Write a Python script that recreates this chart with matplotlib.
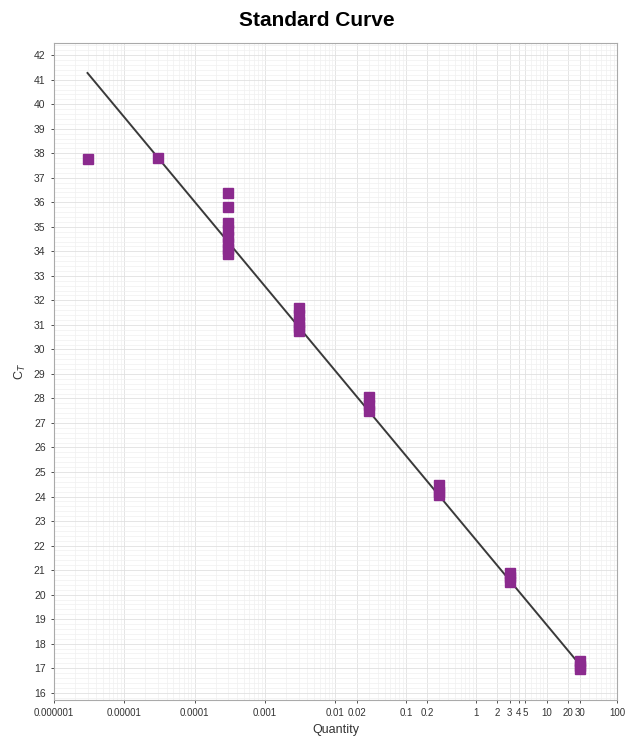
import matplotlib
matplotlib.use("Agg")
import matplotlib.pyplot as plt
import numpy as np

# standard curve data: quantity and Ct replicates
qty = [3e-6, 3e-5,
       3e-4, 3e-4, 3e-4, 3e-4, 3e-4, 3e-4, 3e-4, 3e-4,
       3e-3, 3e-3, 3e-3, 3e-3, 3e-3,
       3e-2, 3e-2, 3e-2,
       0.3, 0.3, 0.3,
       3, 3, 3,
       30, 30, 30]
ct = [37.75, 37.8,
      36.38, 35.82, 35.15, 34.85, 34.6, 34.35, 34.1, 33.9,
      31.7, 31.4, 31.1, 30.9, 30.75,
      28.05, 27.75, 27.5,
      24.45, 24.2, 24.05,
      20.9, 20.7, 20.5,
      17.3, 17.1, 16.95]

# fitted line: Ct = slope*log10(q) + intercept
slope = -3.45
intercept = 22.22

xtick_vals = [1e-6, 1e-5, 1e-4, 1e-3, 0.01, 0.02, 0.1, 0.2, 1, 2, 3, 4, 5, 10, 20, 30, 100]
xtick_labels = ["0.000001", "0.00001", "0.0001", "0.001", "0.01", "0.02", "0.1", "0.2",
                "1", "2", "3", "4", "5", "10", "20", "30", "100"]
ytick_vals = list(range(16, 43))

plt.rcParams['font.family'] = ['Liberation Sans', 'DejaVu Sans']
fig = plt.figure(figsize=(6.27, 7.40), dpi=100)
ax = fig.add_axes([0.086, 0.054, 0.898, 0.888])

ax.set_xscale('log')
ax.set_xlim(1e-6, 100)
ax.set_ylim(15.7, 42.5)

# grid
ax.set_yticks(np.arange(15.8, 42.5, 0.2), minor=True)
ax.grid(True, which='major', color='#e0e0e0', lw=0.6)
ax.grid(True, which='minor', color='#f0f0f0', lw=0.5)
ax.set_axisbelow(True)

lx = np.array([min(qty), max(qty)])
ax.plot(lx, slope * np.log10(lx) + intercept, color='#3a3a3a', lw=1.4, zorder=3)
ax.plot(qty, ct, 's', color='#8b2a8e', ms=7.3, mec='#8b2a8e', zorder=4)

ax.set_xticks(xtick_vals)
ax.set_xticklabels(xtick_labels)
ax.set_yticks(ytick_vals)
ax.tick_params(axis='x', which='major', labelsize=7, colors='#333333', length=2.5, width=0.6)
ax.tick_params(axis='y', which='major', labelsize=7.5, colors='#333333', length=2.5, width=0.6)
ax.tick_params(axis='x', which='minor', length=0, labelbottom=False)
ax.tick_params(axis='y', which='minor', length=0)
for t in ax.get_xticklabels() + ax.get_yticklabels():
    t.set_color('#333333')
for s in ax.spines.values():
    s.set_color('#aaaaaa')
    s.set_linewidth(0.8)

fig.suptitle('Standard Curve', x=0.505, y=0.985, fontsize=15, fontweight='bold')
ax.set_xlabel('Quantity', fontsize=9, color='#333333', labelpad=4)
ax.set_ylabel('C$_T$', fontsize=9, color='#333333', labelpad=4)

fig.savefig('out.png', dpi=100)
